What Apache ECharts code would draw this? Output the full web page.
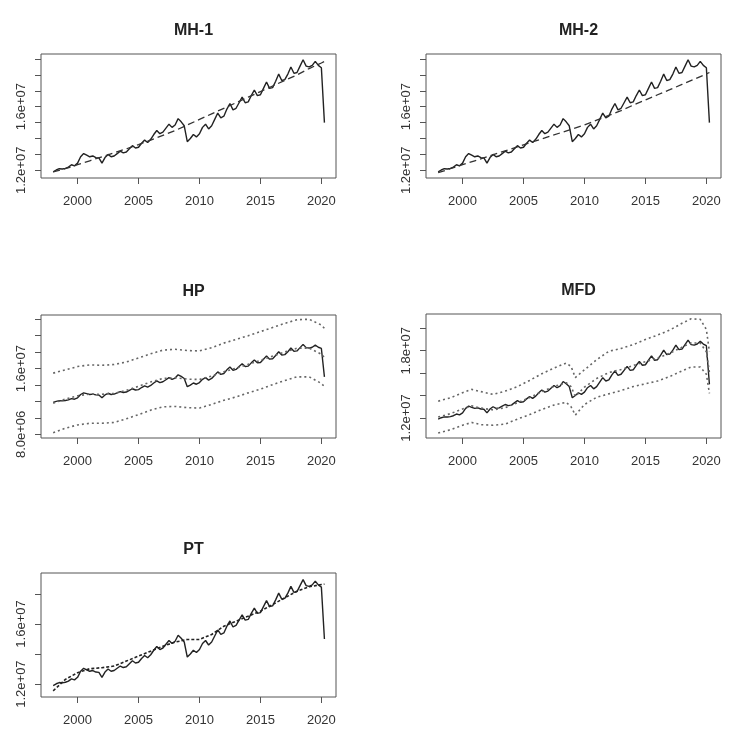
<!DOCTYPE html>
<html><head><meta charset="utf-8">
<script src="https://cdn.jsdelivr.net/npm/echarts@6/dist/echarts.min.js"></script>
<style>html,body{margin:0;padding:0;background:#fff}#c{width:751px;height:750px}</style>
</head><body><div id="c"></div>
<script>
// quarterly observed series (millions), 1998 Q1 .. 2020 Q2
const startYear = 1998, perYear = 4;
const actual = [
  11.90, 12.02, 12.10, 12.08,
  12.12, 12.20, 12.35, 12.28,
  12.45, 12.85, 13.05, 12.95,
  12.85, 12.90, 12.80, 12.78,
  12.45, 12.80, 13.00, 12.85,
  12.90, 13.05, 13.20, 13.10,
  13.15, 13.35, 13.55, 13.40,
  13.45, 13.70, 13.90, 13.75,
  13.95, 14.25, 14.50, 14.30,
  14.40, 14.65, 14.90, 14.70,
  14.85, 15.25, 15.05, 14.80,
  13.80, 14.00, 14.25, 14.10,
  14.30, 14.70, 14.90, 14.60,
  14.80, 15.20, 15.60, 15.30,
  15.40, 15.85, 16.20, 15.80,
  15.90, 16.25, 16.60, 16.25,
  16.30, 16.70, 17.05, 16.70,
  16.75, 17.15, 17.55, 17.15,
  17.20, 17.60, 18.05, 17.65,
  17.70, 18.05, 18.50, 18.10,
  18.15, 18.55, 18.95, 18.55,
  18.50, 18.60, 18.85, 18.60,
  18.45, 15.00
];
const trendYears = [1998,1999,2000,2001,2002,2003,2004,2005,2006,2007,2008,2009,2010,2011,2012,2013,2014,2015,2016,2017,2018,2019,2020,2020.25];
const mh1Trend = [11.90,12.10,12.35,12.60,12.85,13.10,13.35,13.62,13.90,14.20,14.50,14.85,15.20,15.55,15.90,16.25,16.60,16.95,17.30,17.65,18.00,18.40,18.75,18.85];
const mh2Trend = [11.85,12.10,12.35,12.60,12.85,13.10,13.35,13.60,13.85,14.10,14.35,14.60,14.85,15.15,15.45,15.75,16.10,16.42,16.75,17.07,17.40,17.73,18.06,18.15];
const hpUpper = [15.45,15.85,16.25,16.45,16.40,16.50,16.80,17.30,17.80,18.25,18.35,18.20,18.15,18.55,19.10,19.55,20.00,20.50,21.00,21.50,21.95,22.00,21.30,20.90];
const hpLower = [8.20,8.75,9.15,9.35,9.35,9.45,9.90,10.40,10.95,11.35,11.40,11.25,11.20,11.65,12.15,12.55,13.05,13.50,14.05,14.55,15.00,15.00,14.20,13.80];
const hpFit   = [11.80,12.30,12.70,12.90,12.88,12.98,13.35,13.85,14.38,14.80,14.88,14.72,14.68,15.10,15.62,16.05,16.52,17.00,17.52,18.02,18.48,18.50,17.75,17.35];
const mfdYears = [1998,1999,2000,2000.75,2001.5,2002.5,2003.5,2004.5,2005.5,2006.5,2007.5,2008.5,2008.9,2009.25,2010,2011,2012,2013,2014,2015,2016,2017,2018,2018.75,2019.5,2020,2020.25];
const mfdUpper = [13.50,13.80,14.25,14.55,14.35,14.10,14.40,14.80,15.35,15.95,16.45,16.90,16.60,15.60,16.30,17.20,17.95,18.20,18.55,19.00,19.40,19.85,20.45,20.85,20.80,19.90,17.90];
const mfdLower = [10.65,10.95,11.35,11.60,11.40,11.35,11.45,11.90,12.30,12.75,13.15,13.40,13.00,12.25,13.20,13.85,14.15,14.45,14.80,15.05,15.30,15.70,16.20,16.55,16.55,15.90,14.20];
const mfdFit   = [12.08,12.38,12.80,13.08,12.88,12.72,12.92,13.35,13.82,14.35,14.80,15.15,14.80,13.92,14.75,15.52,16.05,16.32,16.68,17.02,17.35,17.78,18.32,18.70,18.68,17.90,16.05];
const ptFit = [11.55,12.31,12.76,13.02,13.09,13.20,13.53,13.86,14.19,14.52,14.79,14.97,14.97,15.30,15.85,16.18,16.52,16.85,17.29,17.74,18.18,18.47,18.62,18.65];
const xTicks = [2000,2005,2010,2015,2020];
const titles = ['MH-1','MH-2','HP','MFD','PT'];
const yTicksMH = [12,13,14,15,16,17,18,19];
const yLabelsMH = [12,16];
const yTicksHP = [8,10,12,14,16,18,20,22];
const yLabelsHP = [8,16];
const yTicksMFD = [12,14,16,18,20];
const yLabelsMFD = [12,18];
const yTicksPT = [12,14,16,18];
const yLabelsPT = [12,16];

const M = 1e6;
const toPairs = (xs, ys) => ys.map((v, i) => [xs[i], v * M]);
const qTimes = actual.map((_, i) => startYear + i / perYear);
const actPairs = toPairs(qTimes, actual);
const sci = v => { const s = v.toExponential(1).split('e'); const e = s[1]; return s[0] + 'e' + e[0] + e.slice(1).padStart(2, '0'); };

const FONT = '"Liberation Sans", Arial, sans-serif';
const TXT = '#333';
const panels = [
  {left: 41, top: 54, w: 295, h: 124, ymin: 11.516, ymax: 19.314, ticks: yTicksMH, labels: yLabelsMH},
  {left: 426, top: 54, w: 295, h: 124, ymin: 11.516, ymax: 19.314, ticks: yTicksMH, labels: yLabelsMH},
  {left: 41, top: 315, w: 295, h: 123, ymin: 7.56, ymax: 22.52, ticks: yTicksHP, labels: yLabelsHP},
  {left: 426, top: 314, w: 295, h: 124, ymin: 10.21, ymax: 21.28, ticks: yTicksMFD, labels: yLabelsMFD},
  {left: 41, top: 573, w: 295, h: 124, ymin: 11.14, ymax: 19.39, ticks: yTicksPT, labels: yLabelsPT}
];
const grid = [], xAxis = [], yAxis = [], title = [];
panels.forEach((p, i) => {
  grid.push({left: p.left, top: p.top, width: p.w, height: p.h, show: true, borderColor: '#555', borderWidth: 1, backgroundColor: 'transparent'});
  xAxis.push({type: 'value', gridIndex: i, min: 1997.0, max: 2021.2,
    axisLine: {show: false}, splitLine: {show: false},
    axisTick: {show: true, length: 6, lineStyle: {color: '#555'}, customValues: xTicks},
    axisLabel: {show: true, customValues: xTicks, margin: 17, color: TXT, fontFamily: FONT, fontSize: 13, formatter: v => String(Math.round(v))}});
  yAxis.push({type: 'value', gridIndex: i, min: p.ymin * M, max: p.ymax * M,
    axisLine: {show: false}, splitLine: {show: false},
    axisTick: {show: true, length: 6, lineStyle: {color: '#555'}, customValues: p.ticks.map(v => v * M)},
    axisLabel: {show: true, customValues: p.labels.map(v => v * M), rotate: 90, margin: 13, color: TXT, fontFamily: FONT, fontSize: 13, formatter: v => sci(v)}});
  title.push({text: titles[i], left: p.left + p.w / 2, top: p.top - 36, textAlign: 'center',
    textStyle: {fontFamily: FONT, fontSize: 16, fontWeight: 'bold', color: '#222'}});
});
const solid = {color: '#222', width: 1.4, type: 'solid'};
const dashed = {color: '#333', width: 1.3, type: [7, 4]};
const dotted = {color: '#666', width: 1.6, type: [2, 3]};
const mk = (gi, data, ls) => ({type: 'line', xAxisIndex: gi, yAxisIndex: gi, data, showSymbol: false, symbol: 'none', silent: true, lineStyle: ls, z: 3});
const series = [
  mk(0, actPairs, solid), mk(0, toPairs(trendYears, mh1Trend), dashed),
  mk(1, actPairs, solid), mk(1, toPairs(trendYears, mh2Trend), dashed),
  mk(2, actPairs, solid), mk(2, toPairs(trendYears, hpFit), dotted), mk(2, toPairs(trendYears, hpUpper), dotted), mk(2, toPairs(trendYears, hpLower), dotted),
  mk(3, actPairs, solid), mk(3, toPairs(mfdYears, mfdFit), dotted), mk(3, toPairs(mfdYears, mfdUpper), dotted), mk(3, toPairs(mfdYears, mfdLower), dotted),
  mk(4, actPairs, solid), mk(4, toPairs(trendYears, ptFit), {color: '#222', width: 1.6, type: [3, 2]})
];
const chart = echarts.init(document.getElementById('c'), null, {renderer: 'canvas'});
chart.setOption({animation: false, backgroundColor: '#fff', title, grid, xAxis, yAxis, series});
</script></body></html>
